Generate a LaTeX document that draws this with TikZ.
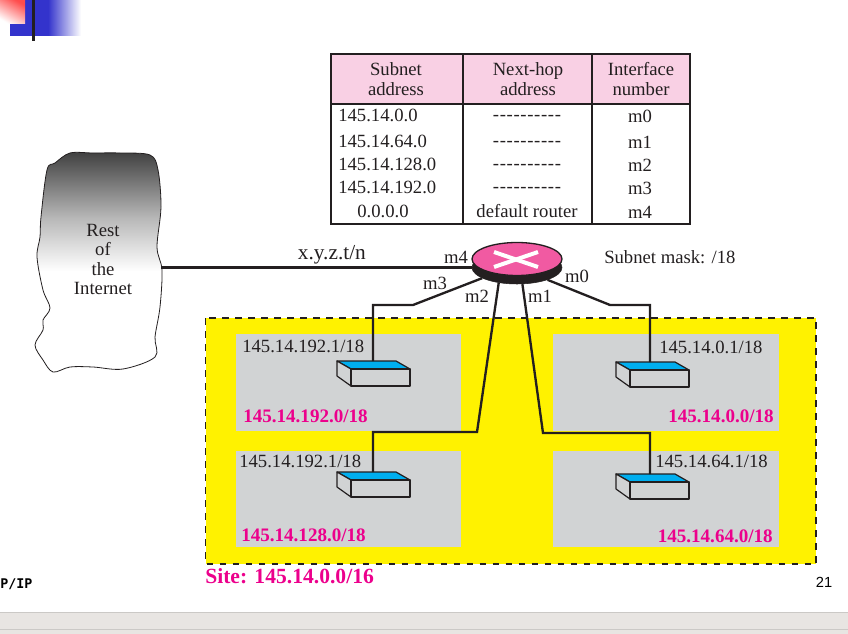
\documentclass[tikz,border=0pt]{standalone}
\usepackage{fontspec}
\setmainfont{Liberation Serif}
\newfontfamily\footfont{DejaVu Sans Mono}
\newfontfamily\pagefont{Liberation Sans}
\usepackage{xcolor}
\usepackage{tikz}
\usetikzlibrary{positioning,shapes.geometric,calc}
\definecolor{inkblack}{HTML}{231F20}
\definecolor{headpink}{HTML}{F9D0E4}
\definecolor{siteyellow}{HTML}{FFF200}
\definecolor{langray}{HTML}{D1D3D4}
\definecolor{topblue}{HTML}{00AEEF}
\definecolor{netpink}{HTML}{EC008C}
\definecolor{routerpink}{HTML}{F15AA2}
\definecolor{barcolor}{HTML}{E8E5E2}
\definecolor{barline}{HTML}{CBC9C6}
\definecolor{slideblue}{HTML}{3333CC}
\pgfdeclareverticalshading{cloudfade}{100bp}{color(0bp)=(white); color(48bp)=(white); color(60bp)=(black!28); color(75bp)=(black!75); color(100bp)=(black!75)}
\newcommand{\nohop}{-\kern.5pt-\kern.5pt-\kern.5pt-\kern.5pt-\kern.5pt-\kern.5pt-\kern.5pt-\kern.5pt-\kern.5pt-}
% switch box, top back corner given, then x of the wire
\newcommand{\switchbox}[4]{
  \coordinate (#1) at (#4,#3);
  \draw[switchline, fill=topblue] (#2,#3) -- (#2+59,#3) -- (#2+73,#3+8) -- (#2+14,#3+8) -- cycle;
  \draw[switchline, fill=langray] (#2,#3) -- (#2+14,#3+8) -- (#2+14,#3+25) -- (#2,#3+15) -- cycle;
  \draw[switchline, fill=langray] (#2+14,#3+8) rectangle (#2+73,#3+25);
}
\begin{document}
\begin{tikzpicture}[
  x=0.75pt, y=-0.75pt,
  txt/.style={font=\fontsize{14}{15}\selectfont, text=inkblack, inner sep=0pt, align=center},
  netlabel/.style={font=\fontsize{14.3}{16}\selectfont\bfseries, text=netpink, inner sep=0pt},
  lanbox/.style={fill=langray},
  wire/.style={draw=inkblack, line width=1.75pt, line join=miter},
  tabline/.style={draw=inkblack, line width=0.9pt},
  switchline/.style={draw=inkblack, line width=0.9pt, line join=round},
  ]
  \useasboundingbox (0,0) rectangle (848,634);

  % slide decoration
  \fill[slideblue] (10,0) rectangle (48,36);
  \shade[left color=slideblue, right color=white] (48,0) rectangle (81,36);
  \shade[shading=axis, bottom color=white, top color=red!70, shading angle=-30] (0,0) rectangle (25,24);
  \fill[inkblack] (32,0) rectangle (35,41);

  % bottom bar
  \fill[barcolor] (0,612) rectangle (848,634);
  \draw[barline] (0,612) -- (848,612);
  \draw[barline] (0,629) -- (848,629);
  \node[anchor=west, inner sep=0pt, font=\footfont\bfseries\fontsize{10}{12}\selectfont] (footer) at (0,584) {P/IP};
  \node[inner sep=0pt, font=\pagefont\fontsize{11}{12}\selectfont] (pagenum) at (824,582) {21};

  % table
  \fill[headpink] (331,54) rectangle (690,104);
  \draw[tabline] (331,54) rectangle (690,224);
  \draw[tabline] (331,104) -- (690,104);
  \draw[tabline] (463,54) -- (463,224);
  \draw[tabline] (592,54) -- (592,224);
  \node[txt] (headsubnet) at (396,79) {Subnet\\address};
  \node[txt] (headhop) at (528,79) {Next-hop\\address};
  \node[txt] (headif) at (641,79) {Interface\\number};
  \node[txt, anchor=west] (net0) at (338,115) {145.14.0.0};
  \node[txt, anchor=west] (net1) at (338,141) {145.14.64.0};
  \node[txt, anchor=west] (net2) at (338,164) {145.14.128.0};
  \node[txt, anchor=west] (net3) at (338,187) {145.14.192.0};
  \node[txt, anchor=west] (net4) at (357,211) {0.0.0.0};
  \node[txt] (hop0) at (527,118) {\nohop};
  \node[txt] (hop1) at (527,144) {\nohop};
  \node[txt] (hop2) at (527,167) {\nohop};
  \node[txt] (hop3) at (527,190) {\nohop};
  \node[txt] (hop4) at (527,211) {default router};
  \node[txt] (if0) at (640,116) {m0};
  \node[txt] (if1) at (640,142) {m1};
  \node[txt] (if2) at (640,165) {m2};
  \node[txt] (if3) at (640,188) {m3};
  \node[txt] (if4) at (640,212) {m4};

  % site
  \draw[fill=siteyellow, draw=inkblack, line width=0.9pt, dash pattern=on 5pt off 4.75pt] (205.5,318) rectangle (816,564);
  \fill[lanbox] (236,334) rectangle (461,431);
  \fill[lanbox] (553,334) rectangle (779,431);
  \fill[lanbox] (236,451) rectangle (461,547);
  \fill[lanbox] (553,451) rectangle (779,547);
  \node[anchor=west, inner sep=0pt, font=\fontsize{16.2}{18}\selectfont\bfseries, text=netpink] (sitelabel) at (205,576) {Site: 145.14.0.0/16};

  % rest of the internet
  \path[shading=cloudfade, draw=inkblack, line width=0.6pt]
    plot[smooth cycle, tension=0.55] coordinates {(55,163) (70,153) (93,153) (120,153) (150,155) (158,170) (161,207) (157,247)
    (162,270) (160,307) (155,337) (155,357) (123,369) (93,367) (70,367) (53,372)
    (43,360) (35,345) (43,330) (43,320) (50,308) (43,290) (37,257) (40,237)
    (41,217) (47,170)};
  \node[txt, font=\fontsize{14}{14.6}\selectfont] (cloud) at (103,259.5) {Rest\\of\\the\\Internet};
  \coordinate (cloudedge) at (161,267.5);

  % switches
  \switchbox{sw3}{337}{361}{373}
  \switchbox{sw0}{616}{362}{650}
  \switchbox{sw2}{337}{472}{373}
  \switchbox{sw1}{616}{474}{650}

  % router
  \node[ellipse, fill=inkblack, draw=inkblack, minimum width=67.5pt, minimum height=24.75pt, inner sep=0pt] (rbase) at (517,267.5) {};
  \draw[wire] (cloudedge) -- node[txt, font=\fontsize{16}{18}\selectfont, above=2pt, pos=0.55] (linklabel) {x.y.z.t/n} (rbase.west);
  \draw[wire] (rbase.197) -- (413,305) -- (373,305) -- (sw3);
  \draw[wire] (rbase.-22) -- (610,305) -- (650,305) -- (sw0);
  \draw[wire] (rbase.-140) -- (477,432) -- (373,432) -- (sw2);
  \draw[wire] (rbase.-72) -- (543,433) -- (650,433) -- (sw1);
  \node[ellipse, fill=routerpink, draw=inkblack, line width=1pt, minimum width=67.5pt, minimum height=24.75pt, inner sep=0pt] (router) at (517,259) {};
  \draw[white, line width=3pt] (494,252) -- (538,267);
  \draw[white, line width=3pt] (494,267) -- (538,252);

  \node[txt] (m4label) at (456,257) {m4};
  \node[txt] (m3label) at (435,283) {m3};
  \node[txt] (m2label) at (477,296) {m2};
  \node[txt] (m1label) at (540,296) {m1};
  \node[txt] (m0label) at (577,276) {m0};
  \node[txt, anchor=west] (masklabel) at (604,257) {Subnet mask: /18};

  % addresses
  \node[txt, anchor=west] (addr3) at (242,346) {145.14.192.1/18};
  \node[txt, anchor=west] (addr2) at (239,461) {145.14.192.1/18};
  \node[txt, anchor=west] (addr0) at (659,347) {145.14.0.1/18};
  \node[txt, anchor=west] (addr1) at (655,461) {145.14.64.1/18};
  \node[netlabel, anchor=west] (lan3) at (243,416) {145.14.192.0/18};
  \node[netlabel, anchor=west] (lan2) at (241,535) {145.14.128.0/18};
  \node[netlabel, anchor=east] (lan0) at (774,416) {145.14.0.0/18};
  \node[netlabel, anchor=east] (lan1) at (773,536) {145.14.64.0/18};
\end{tikzpicture}
\end{document}
